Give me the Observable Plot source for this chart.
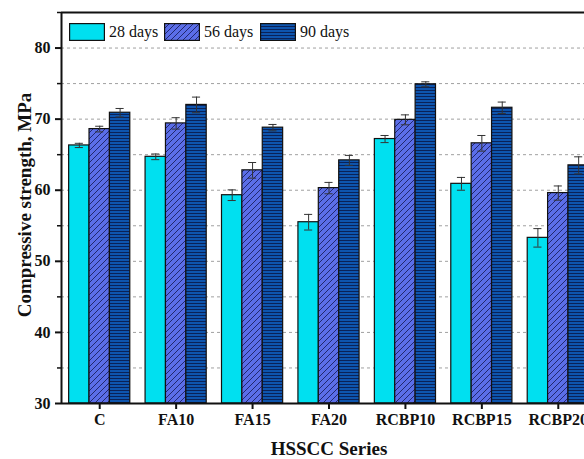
<!DOCTYPE html>
<html>
<head>
<meta charset="utf-8">
<script src="https://cdn.jsdelivr.net/npm/d3@7"></script>
<script src="https://cdn.jsdelivr.net/npm/@observablehq/plot@0.6"></script>
<style>
  html, body { margin: 0; padding: 0; background: #fff; overflow: hidden; }
  #wrap { position: relative; width: 584px; height: 459px; overflow: hidden; }
  #chart { width: 600px; }
  #chart svg { max-width: none !important; }
  #legend { position: absolute; left: 0; top: 0; font-family: "Liberation Serif", "Times New Roman", serif; font-size: 16px; color: #111; }
  .item { position: absolute; top: 23px; height: 17px; display: flex; align-items: center; white-space: nowrap; }
  .item svg { display: block; margin-right: 4px; }
</style>
</head>
<body>
<svg width="0" height="0" style="position:absolute">
  <defs>
    <pattern id="hatch" patternUnits="userSpaceOnUse" width="6" height="6">
      <rect width="6" height="6" fill="#5B6EE8"></rect>
      <path d="M-1,1 L1,-1 M0,6 L6,0 M5,7 L7,5" stroke="#1b2060" stroke-width="0.9"></path>
    </pattern>
    <pattern id="hlines" patternUnits="userSpaceOnUse" width="6" height="3">
      <rect width="6" height="3" fill="#0E55AE"></rect>
      <path d="M0,0.5 L6,0.5" stroke="#0a2258" stroke-width="1"></path>
    </pattern>
  </defs>
</svg>
<div id="wrap">
  <div id="chart"></div>
  <div id="legend"></div>
</div>
<script>
// ---- data ----
const categories = ["C", "FA10", "FA15", "FA20", "RCBP10", "RCBP15", "RCBP20"];
const seriesNames = ["28 days", "56 days", "90 days"];
const d28 = [66.3, 64.7, 59.3, 55.5, 67.2, 60.9, 53.3];
const d56 = [68.6, 69.4, 62.8, 60.3, 69.9, 66.6, 59.6];
const d90 = [70.9, 72.0, 68.8, 64.2, 74.9, 71.6, 63.5];
const e28 = [0.3, 0.4, 0.75, 1.1, 0.5, 0.9, 1.3];
const e56 = [0.4, 0.8, 1.1, 0.8, 0.7, 1.1, 1.0];
const e90 = [0.6, 1.1, 0.45, 0.7, 0.35, 0.8, 1.2];
const yTicks = [30, 40, 50, 60, 70, 80];
const yMinor = [35, 45, 55, 65, 75, 85];
const gridTicks = [35, 40, 45, 50, 55, 60, 65, 70, 75, 80];

// ---- style ----
const fills = ["#00E0F0", "url(#hatch)", "url(#hlines)"];
const groupWidth = 0.8;
const barW = groupWidth / 3;
const capHalf = 0.053;
const serif = '"Liberation Serif", "Times New Roman", serif';

const values = [d28, d56, d90];
const errors = [e28, e56, e90];
const rows = [];
categories.forEach((c, i) => {
  seriesNames.forEach((s, k) => {
    const x1 = i - groupWidth / 2 + k * barW;
    rows.push({cat: c, series: s, k, x1, x2: x1 + barW, xc: x1 + barW / 2,
               v: values[k][i], e: errors[k][i]});
  });
});

const idx = d3.range(categories.length);

const plot = Plot.plot({
  width: 600,
  height: 459,
  marginLeft: 61,
  marginRight: 4,
  marginTop: 12,
  marginBottom: 56,
  style: {fontFamily: serif, fontSize: "16px", color: "#111", background: "transparent"},
  x: {type: "linear", domain: [-0.5, categories.length - 0.5]},
  y: {domain: [30, 85]},
  marks: [
    Plot.ruleY(gridTicks, {stroke: "#a0a0a0", strokeWidth: 1, strokeDasharray: "3,3"}),
    ...[0, 1, 2].map(k =>
      Plot.rectY(rows.filter(d => d.k === k), {
        x1: "x1", x2: "x2", y1: 30, y2: "v",
        fill: fills[k], stroke: "#111", strokeWidth: 1.2
      })
    ),
    Plot.ruleX(rows, {x: "xc", y1: d => d.v - d.e, y2: d => d.v + d.e, stroke: "#333", strokeWidth: 1}),
    Plot.ruleY(rows, {x1: d => d.xc - capHalf, x2: d => d.xc + capHalf, y: d => d.v - d.e, stroke: "#333", strokeWidth: 1}),
    Plot.ruleY(rows, {x1: d => d.xc - capHalf, x2: d => d.xc + capHalf, y: d => d.v + d.e, stroke: "#333", strokeWidth: 1}),
    // frame
    Plot.ruleY([30, 85], {stroke: "#111", strokeWidth: 2}),
    Plot.ruleX([-0.5, categories.length - 0.5], {stroke: "#111", strokeWidth: 2}),
    // axes
    Plot.axisY(yTicks, {tickSize: 6, tickPadding: 5, strokeWidth: 2, stroke: "#111",
      fontWeight: "bold", fontSize: 16, fontFamily: serif, label: null}),
    Plot.axisY(yMinor, {tickSize: 4, strokeWidth: 1.5, stroke: "#111", tickFormat: () => "", label: null}),
    Plot.axisX(idx, {tickSize: 6, tickPadding: 4, strokeWidth: 2, stroke: "#111",
      tickFormat: i => categories[i], fontWeight: "bold", fontSize: 16, fontFamily: serif, label: null}),
    // axis titles
    Plot.text(["Compressive strength, MPa"], {frameAnchor: "left", rotate: -90, dx: -31, dy: -3,
      lineAnchor: "bottom", textAnchor: "middle", fontWeight: "bold", fontSize: 19, fontFamily: serif, fill: "#111"}),
    Plot.text(["HSSCC Series"], {frameAnchor: "bottom", dy: 51, lineAnchor: "bottom", textAnchor: "middle",
      fontWeight: "bold", fontSize: 19, fontFamily: serif, fill: "#111"})
  ]
});
document.getElementById("chart").appendChild(plot);

// ---- legend ----
const legendLeft = [69, 164, 260];
const legend = document.getElementById("legend");
seriesNames.forEach((s, k) => {
  const item = document.createElement("div");
  item.className = "item";
  item.style.left = legendLeft[k] + "px";
  item.innerHTML = `<svg width="36" height="18"><rect x="0.6" y="0.6" width="34.8" height="16.8" fill="${fills[k]}" stroke="#111" stroke-width="1.2"></rect></svg><span>${s}</span>`;
  legend.appendChild(item);
});
</script>
</body>
</html>
